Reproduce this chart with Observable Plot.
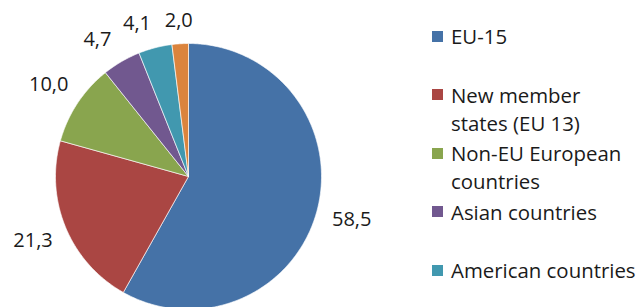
<!DOCTYPE html>
<html>
<head>
<meta charset="utf-8">
<script src="https://cdn.jsdelivr.net/npm/d3@7"></script>
<script src="https://cdn.jsdelivr.net/npm/@observablehq/plot@0.6"></script>
<style>
  html, body { margin: 0; padding: 0; background: #fff; }
  #wrap { position: relative; width: 639px; height: 307px; overflow: hidden; font-family: "Open Sans", Lato, sans-serif; }
  #chart { position: absolute; left: 0; top: 0; }
  #legend { position: absolute; left: 432px; top: 22px; color: #1a1a1a; font-size: 20.4px; line-height: 28px; }
  .item { position: relative; height: 58.5px; padding-left: 19px; white-space: nowrap; }
  .sw { position: absolute; left: 0; top: 8.5px; width: 11px; height: 11px; }
</style>
</head>
<body>
<div id="wrap"><div id="chart"></div><div id="legend"></div></div>
<script>
const categories = ["EU-15", "New member states (EU 13)", "Non-EU European countries", "Asian countries", "American countries", "Other countries"];
const legendLines = [["EU-15"], ["New member", "states (EU 13)"], ["Non-EU European", "countries"], ["Asian countries"], ["American countries"]];
const values = [58.5, 21.3, 10.0, 4.7, 4.1, 2.0];
const colors = ["#4572A7", "#AA4643", "#89A54E", "#71588F", "#4198AF", "#DB843D"];

const W = 639, H = 307;
const R = 133, cx = 188, cy = 176; // pixel geometry of the pie

const arcs = d3.pie().sort(null).value(d => d.value)(categories.map((c, i) => ({cat: c, value: values[i]})));

const pts = [];
for (const a of arcs) {
  pts.push({cat: a.data.cat, x: 0, y: 0});
  const n = Math.max(4, Math.ceil((a.endAngle - a.startAngle) / 0.01));
  for (let k = 0; k <= n; k++) {
    const t = a.startAngle + (a.endAngle - a.startAngle) * k / n;
    pts.push({cat: a.data.cat, x: Math.sin(t), y: Math.cos(t)});
  }
  pts.push({cat: a.data.cat, x: 0, y: 0});
}

// label angles at slice middles, spread apart (counter-clockwise) where they would collide
const angles = arcs.map(a => (a.startAngle + a.endAngle) / 2);
const minGap = 15 * Math.PI / 180;
for (let i = angles.length - 2; i >= 0; i--) {
  angles[i] = Math.min(angles[i], angles[i + 1] - minGap);
}
const labels = arcs.map((a, i) => {
  const m = angles[i];
  const d = (152 + 17 * Math.sqrt(Math.abs(Math.sin(m)))) / R;
  return {x: d * Math.sin(m), y: d * Math.cos(m), text: d3.format(".1f")(a.data.value).replace(".", ",")};
});

const chart = Plot.plot({
  width: W, height: H,
  margin: 0,
  x: {domain: [-cx / R, (W - cx) / R], range: [0, W], axis: null},
  y: {domain: [-(H - cy) / R, cy / R], range: [H, 0], axis: null},
  color: {domain: categories, range: colors},
  style: {fontFamily: "'Open Sans', Lato, sans-serif", background: "white"},
  marks: [
    Plot.line(pts, {x: "x", y: "y", z: "cat", fill: "cat", stroke: "white", strokeWidth: 0.8, strokeOpacity: 0.8, curve: "linear"}),
    Plot.text(labels, {x: "x", y: "y", text: "text", fontSize: 20, fill: "#1a1a1a"})
  ]
});
document.getElementById("chart").appendChild(chart);

const legend = document.getElementById("legend");
legendLines.forEach((lines, i) => {
  const item = document.createElement("div");
  item.className = "item";
  item.innerHTML = `<div class="sw" style="background:${colors[i]}"></div>` + lines.map(l => `<div>${l}</div>`).join("");
  legend.appendChild(item);
});
</script>
</body>
</html>
